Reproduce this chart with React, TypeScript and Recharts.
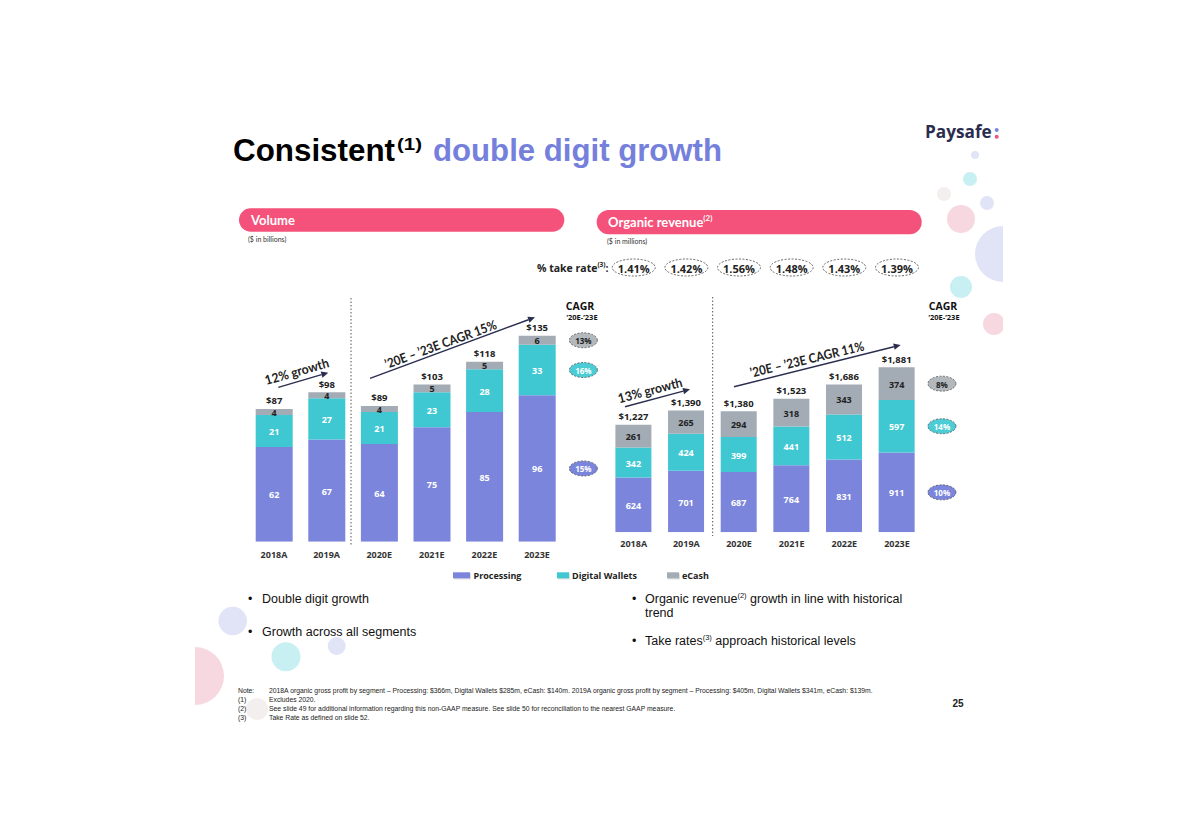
import React from 'react';
import { BarChart, Bar, XAxis, YAxis, LabelList } from 'recharts';

// ---------------- DATA ----------------
const categories = ['2018A', '2019A', '2020E', '2021E', '2022E', '2023E'];
const seriesNames = ['Processing', 'Digital Wallets', 'eCash'];

const volumeProcessing = [62, 67, 64, 75, 85, 96];
const volumeWallets = [21, 27, 21, 23, 28, 33];
const volumeECash = [4, 4, 4, 5, 5, 6];
const volumeTotals = ['$87', '$98', '$89', '$103', '$118', '$135'];
const volumeCagr = ['15%', '16%', '13%']; // processing, wallets, eCash

const revenueProcessing = [624, 701, 687, 764, 831, 911];
const revenueWallets = [342, 424, 399, 441, 512, 597];
const revenueECash = [261, 265, 294, 318, 343, 374];
const revenueTotals = ['$1,227', '$1,390', '$1,380', '$1,523', '$1,686', '$1,881'];
const revenueCagr = ['10%', '14%', '8%'];

const takeRates = ['1.41%', '1.42%', '1.56%', '1.48%', '1.43%', '1.39%'];

// ---------------- STYLE ----------------
const C_PROC = '#7b85dc';
const C_WAL = '#40c8d2';
const C_ECASH = '#a3abb4';
const NAVY = '#2b2d4f';
const PINK = '#f4527a';
const UI = "'Open Sans', 'Noto Sans', sans-serif";
const LATO = "Lato, 'Open Sans', sans-serif";
const ARIAL = "'Liberation Sans', Arial, sans-serif";

const buildRows = (p: number[], w: number[], e: number[], totals: string[], cagr: string[]) =>
  categories.map((c, i) => {
    const last = i === categories.length - 1;
    return {
      cat: c,
      proc: p[i],
      wal: w[i],
      ecash: e[i],
      total: totals[i],
      procCagr: last ? cagr[0] : '',
      walCagr: last ? cagr[1] : '',
      ecashCagr: last ? cagr[2] : '',
    };
  });

const volumeRows = buildRows(volumeProcessing, volumeWallets, volumeECash, volumeTotals, volumeCagr);
const revenueRows = buildRows(revenueProcessing, revenueWallets, revenueECash, revenueTotals, revenueCagr);

const box = (props: any) => {
  const vb = props.viewBox && props.viewBox.width !== undefined ? props.viewBox : props;
  return { x: Number(vb.x), y: Number(vb.y), w: Number(vb.width), h: Number(vb.height) };
};

const InnerLabel = (color: string) => (props: any) => {
  const { x, y, w, h } = box(props);
  return (
    <text x={x + w / 2} y={y + h / 2 + 0.5} textAnchor="middle" dominantBaseline="central"
      fill={color} fontSize={9} fontWeight={700} fontFamily={UI}>{props.value}</text>
  );
};

const TotalLabel = (props: any) => {
  const { x, y, w } = box(props);
  return (
    <text x={x + w / 2} y={y - 8} textAnchor="middle" dominantBaseline="central"
      fill="#222" fontSize={9.5} fontWeight={700} fontFamily={UI}>{props.value}</text>
  );
};

const CagrOval = (fill: string, textColor: string, dx: number) => (props: any) => {
  if (!props.value) return null;
  const { x, y, w, h } = box(props);
  const cx = x + w + dx;
  const cy = y + h / 2;
  return (
    <g>
      <ellipse cx={cx} cy={cy} rx={14} ry={7.5} fill={fill} stroke="#555" strokeWidth={0.8} strokeDasharray="2 1.5" />
      <text x={cx} y={cy + 0.5} textAnchor="middle" dominantBaseline="central" fill={textColor}
        fontSize={8} fontWeight={700} fontFamily={UI}>{props.value}</text>
    </g>
  );
};

const CatTick = (dy: number, withRates: boolean) => (props: any) => {
  const { x, y, payload } = props;
  const idx = categories.indexOf(payload.value);
  return (
    <g>
      <text x={x} y={y + dy} textAnchor="middle" dominantBaseline="central" fill="#333"
        fontSize={9} fontWeight={700} fontFamily={UI}>{payload.value}</text>
      {withRates && idx >= 0 ? (
        <g>
          <ellipse cx={x} cy={y - 264.8} rx={21.5} ry={8.5} fill="#fff" stroke="#555" strokeWidth={0.9} strokeDasharray="2 1.5" />
          <text x={x} y={y - 264.3} textAnchor="middle" dominantBaseline="central" fill="#222"
            fontSize={11} fontWeight={700} fontFamily={UI}>{takeRates[idx]}</text>
        </g>
      ) : null}
    </g>
  );
};

// ---------------- OVERLAY ----------------
function Arrow({ x1, y1, x2, y2 }: { x1: number; y1: number; x2: number; y2: number }) {
  const a = Math.atan2(y2 - y1, x2 - x1);
  const L = 7, W = 3.2;
  const bx = x2 - L * Math.cos(a), by = y2 - L * Math.sin(a);
  const px = -Math.sin(a) * W, py = Math.cos(a) * W;
  return (
    <g>
      <line x1={x1} y1={y1} x2={bx} y2={by} stroke={NAVY} strokeWidth={1.4} />
      <polygon points={`${x2},${y2} ${bx + px},${by + py} ${bx - px},${by - py}`} fill={NAVY} />
    </g>
  );
}

function RotText({ x, y, angle, children, len }: any) {
  return (
    <text x={x} y={y} transform={`rotate(${angle} ${x} ${y})`} textAnchor="middle" dominantBaseline="central"
      fill="#222" fontSize={13} fontWeight={700} fontFamily={LATO} textLength={len} lengthAdjust="spacingAndGlyphs">{children}</text>
  );
}

const LAV = '#e1e4f7';
const TEAL = '#c8eff2';
const PNK = '#f8d8e0';
const BEIGE = '#f3efee';

const legendItems = [
  { sx: 453, sw: 17, tx: 473.5, color: C_PROC },
  { sx: 557, sw: 12, tx: 572, color: C_WAL },
  { sx: 667, sw: 12, tx: 682, color: C_ECASH },
];

function Overlay() {
  return (
    <svg width={1200} height={838} style={{ position: 'absolute', left: 0, top: 0 }}>
      <defs>
        <clipPath id="clipR"><rect x={0} y={0} width={1003} height={838} /></clipPath>
        <clipPath id="clipL"><rect x={195} y={0} width={1005} height={838} /></clipPath>
      </defs>
      {/* decorative circles */}
      <g clipPath="url(#clipR)">
        <circle cx={975} cy={155} r={4} fill={LAV} />
        <circle cx={970} cy={179} r={7} fill={TEAL} />
        <circle cx={944} cy={194} r={7} fill={BEIGE} />
        <circle cx={987} cy={203} r={7} fill={LAV} />
        <circle cx={961} cy={219} r={14} fill={PNK} />
        <circle cx={1003} cy={254} r={28} fill={LAV} />
        <circle cx={961} cy={287} r={11} fill={TEAL} />
        <circle cx={994} cy={324} r={11} fill={PNK} />
      </g>
      <g clipPath="url(#clipL)">
        <circle cx={195} cy={676} r={29} fill={PNK} />
      </g>
      <circle cx={232.7} cy={621} r={14.3} fill={LAV} />
      <circle cx={286} cy={656.7} r={14.5} fill={TEAL} />
      <circle cx={336.7} cy={646} r={9} fill={LAV} />
      <circle cx={257} cy={709} r={11} fill={BEIGE} />

      {/* title */}
      <text x={233} y={161} fontFamily={ARIAL} fontWeight={700} fontSize={32} fill="#000" textLength={162} lengthAdjust="spacingAndGlyphs">Consistent</text>
      <text x={397} y={150} fontFamily={ARIAL} fontWeight={700} fontSize={17} fill="#000" textLength={25} lengthAdjust="spacingAndGlyphs">(1)</text>
      <text x={433} y={161} fontFamily={ARIAL} fontWeight={700} fontSize={32} fill="#7480dc" textLength={289} lengthAdjust="spacingAndGlyphs">double digit growth</text>

      {/* logo */}
      <text x={925} y={138.3} fontFamily={UI} fontWeight={700} fontSize={17} fill={NAVY} textLength={66.7} lengthAdjust="spacingAndGlyphs">Paysafe</text>
      <circle cx={996.7} cy={130} r={2} fill="#7b85dc" />
      <circle cx={996.7} cy={136.7} r={2} fill={PINK} />

      {/* header bars */}
      <rect x={239} y={208.3} width={325.3} height={23.4} rx={11.7} fill={PINK} />
      <text x={251} y={220} dominantBaseline="central" fontFamily={LATO} fontWeight={700} fontSize={13} fill="#fff">Volume</text>
      <text x={248} y={238.5} dominantBaseline="central" fontFamily={LATO} fontSize={7} fill="#333">($ in billions)</text>
      <rect x={596.7} y={210} width={325} height={24.3} rx={12} fill={PINK} />
      <text x={608} y={222.3} dominantBaseline="central" fontFamily={LATO} fontWeight={700} fontSize={13} fill="#fff">
        Organic revenue<tspan fontSize={8} dy={-4}>(2)</tspan>
      </text>
      <text x={607} y={240.7} dominantBaseline="central" fontFamily={LATO} fontSize={7} fill="#333">($ in millions)</text>

      {/* take rate label */}
      <text x={537} y={267.5} dominantBaseline="central" fontFamily={UI} fontWeight={700} fontSize={10.5} fill="#222">
        % take rate<tspan fontSize={6.5} dy={-3.5}>(3)</tspan><tspan dy={3.5}>:</tspan>
      </text>

      {/* CAGR headings */}
      <text x={580} y={305.7} textAnchor="middle" dominantBaseline="central" fontFamily={UI} fontWeight={700} fontSize={10.5} fill="#111">CAGR</text>
      <text x={582} y={316.7} textAnchor="middle" dominantBaseline="central" fontFamily={UI} fontWeight={700} fontSize={7.5} fill="#111">’20E-’23E</text>
      <text x={943} y={305.7} textAnchor="middle" dominantBaseline="central" fontFamily={UI} fontWeight={700} fontSize={10.5} fill="#111">CAGR</text>
      <text x={944} y={316.7} textAnchor="middle" dominantBaseline="central" fontFamily={UI} fontWeight={700} fontSize={7.5} fill="#111">’20E-’23E</text>

      {/* dividers */}
      <line x1={351} y1={298} x2={351} y2={546} stroke="#555" strokeWidth={1} strokeDasharray="1.5 2" />
      <line x1={712.7} y1={297} x2={712.7} y2={536} stroke="#555" strokeWidth={1} strokeDasharray="1.5 2" />

      {/* growth arrows */}
      <Arrow x1={278.3} y1={387.3} x2={328.3} y2={372.7} />
      <RotText x={296.7} y={371.2} angle={-16} len={66}>12% growth</RotText>
      <Arrow x1={370} y1={378.3} x2={535} y2={317.3} />
      <RotText x={440.5} y={344} angle={-20} len={118}>’20E – ’23E CAGR 15%</RotText>
      <Arrow x1={625} y1={406.7} x2={690} y2={389.3} />
      <RotText x={650} y={390} angle={-14.7} len={66}>13% growth</RotText>
      <Arrow x1={734} y1={386.7} x2={900.7} y2={345} />
      <RotText x={807} y={359} angle={-13.5} len={117}>’20E – ’23E CAGR 11%</RotText>

      {/* legend */}
      {legendItems.map((it, i) => (
        <g key={seriesNames[i]}>
          <rect x={it.sx + 1} y={573.5} width={it.sw} height={6} fill="#c9c9c9" opacity={0.6} />
          <rect x={it.sx} y={572.3} width={it.sw} height={6} fill={it.color} />
          <text x={it.tx} y={575.2} dominantBaseline="central" fontFamily={UI} fontWeight={700} fontSize={9} fill="#222">{seriesNames[i]}</text>
        </g>
      ))}

      {/* bullets */}
      <g fontFamily={ARIAL} fontSize={12.5} fill="#111">
        <text x={248} y={599} dominantBaseline="central">•</text>
        <text x={262} y={599} dominantBaseline="central">Double digit growth</text>
        <text x={248} y={632} dominantBaseline="central">•</text>
        <text x={262} y={632} dominantBaseline="central">Growth across all segments</text>
        <text x={632} y={599} dominantBaseline="central">•</text>
        <text x={645} y={599} dominantBaseline="central">Organic revenue<tspan fontSize={7.5} dy={-4}>(2)</tspan><tspan dy={4}> growth in line with historical</tspan></text>
        <text x={645} y={613} dominantBaseline="central">trend</text>
        <text x={632} y={641} dominantBaseline="central">•</text>
        <text x={645} y={641} dominantBaseline="central">Take rates<tspan fontSize={7.5} dy={-4}>(3)</tspan><tspan dy={4}> approach historical levels</tspan></text>
      </g>

      {/* footnotes */}
      <g fontFamily={ARIAL} fontSize={6.8} fill="#222">
        <text x={238} y={690.7} dominantBaseline="central">Note:</text>
        <text x={269} y={690.7} dominantBaseline="central">2018A organic gross profit by segment – Processing: $366m, Digital Wallets $285m, eCash: $140m.  2019A organic gross profit by segment – Processing: $405m, Digital Wallets $341m, eCash: $139m.</text>
        <text x={238} y={699.3} dominantBaseline="central">(1)</text>
        <text x={269} y={699.3} dominantBaseline="central">Excludes 2020.</text>
        <text x={238} y={708.3} dominantBaseline="central">(2)</text>
        <text x={269} y={708.3} dominantBaseline="central">See slide 49 for additional information regarding this non-GAAP measure. See slide 50 for reconciliation to the nearest GAAP measure.</text>
        <text x={238} y={717.3} dominantBaseline="central">(3)</text>
        <text x={269} y={717.3} dominantBaseline="central">Take Rate as defined on slide 52.</text>
      </g>
      <text x={958} y={703} textAnchor="middle" dominantBaseline="central" fontFamily={ARIAL} fontWeight={700} fontSize={10} fill="#222">25</text>
    </svg>
  );
}

function StackChart({ rows, domainMax, barSize, margin, width, height, dx, tickDy, withRates }: any) {
  return (
    <BarChart width={width} height={height} data={rows} margin={margin} barSize={barSize}>
      <XAxis dataKey="cat" axisLine={false} tickLine={false} tickSize={0} tickMargin={0} height={20}
        interval={0} tick={CatTick(tickDy, withRates)} />
      <YAxis hide domain={[0, domainMax]} allowDataOverflow />
      <Bar dataKey="proc" stackId="s" fill={C_PROC} isAnimationActive={false}>
        <LabelList dataKey="proc" content={InnerLabel('#fff')} />
        <LabelList dataKey="procCagr" content={CagrOval(C_PROC, '#fff', dx)} />
      </Bar>
      <Bar dataKey="wal" stackId="s" fill={C_WAL} isAnimationActive={false}>
        <LabelList dataKey="wal" content={InnerLabel('#fff')} />
        <LabelList dataKey="walCagr" content={CagrOval('#4ccdd6', '#fff', dx)} />
      </Bar>
      <Bar dataKey="ecash" stackId="s" fill={C_ECASH} isAnimationActive={false}>
        <LabelList dataKey="ecash" content={InnerLabel('#222')} />
        <LabelList dataKey="total" content={TotalLabel} />
        <LabelList dataKey="ecashCagr" content={CagrOval('#b3b8bd', '#222', dx)} />
      </Bar>
    </BarChart>
  );
}

export default function App() {
  return (
    <div style={{ position: 'absolute', left: 0, top: 0, width: 1200, height: 838, background: '#fff', overflow: 'hidden' }}>
      <Overlay />
      <div style={{ position: 'absolute', left: 200, top: 280 }}>
        <StackChart rows={volumeRows} domainMax={150} barSize={37} width={400} height={300}
          margin={{ top: 32.8, right: 36.7, bottom: 18.3, left: 47.7 }} dx={27.7} tickDy={12.8} withRates={false} />
      </div>
      <div style={{ position: 'absolute', left: 580, top: 250 }}>
        <StackChart rows={revenueRows} domainMax={2000} barSize={36} width={400} height={320}
          margin={{ top: 106.9, right: 56.7, bottom: 17.7, left: 27.4 }} dx={27.3} tickDy={11} withRates={true} />
      </div>
    </div>
  );
}
